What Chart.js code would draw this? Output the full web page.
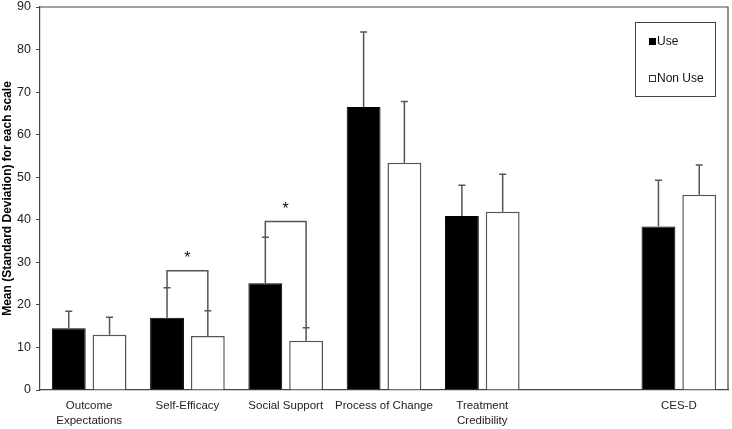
<!DOCTYPE html>
<html>
<head>
<meta charset="utf-8">
<script src="https://cdn.jsdelivr.net/npm/chart.js@4.4.0/dist/chart.umd.min.js"></script>
<style>
html,body{margin:0;padding:0;background:#fff;}
#wrap{width:732px;height:429px;position:relative;}
</style>
</head>
<body>
<div id="wrap"><canvas id="c" width="732" height="429"></canvas></div>
<script>
const categories = [['Outcome','Expectations'], 'Self-Efficacy', 'Social Support', 'Process of Change', ['Treatment','Credibility'], '', 'CES-D'];
const useMeans = [14.5, 17.0, 25.1, 66.5, 40.9, null, 38.4];
const useSD    = [4.0, 7.0, 10.8, 17.6, 7.2, null, 10.9];
const nonUseMeans = [13.0, 12.7, 11.6, 53.4, 41.9, null, 45.9];
const nonUseSD    = [4.1, 5.9, 3.0, 14.4, 8.8, null, 7.0];
const yTicks = [0,10,20,30,40,50,60,70,80,90];
const sigIndex = [1, 2];
const bracketLevel = [28.0, 39.6];
const seriesNames = ['Use', 'Non Use'];

const FONT = '"Liberation Sans", Arial, sans-serif';
const LINE = '#555';

const overlay = {
  id: 'overlay',
  afterDatasetsDraw(chart) {
    const ctx = chart.ctx;
    const y = chart.scales.y;
    const area = chart.chartArea;
    ctx.save();
    ctx.strokeStyle = '#444';
    ctx.lineWidth = 1.2;
    ctx.beginPath();
    ctx.moveTo(area.left, area.top);
    ctx.lineTo(area.right, area.top);
    ctx.lineTo(area.right, area.bottom);
    ctx.stroke();
    const sds = [useSD, nonUseSD];
    const means = [useMeans, nonUseMeans];
    ctx.strokeStyle = LINE;
    ctx.lineWidth = 1.5;
    for (let d = 0; d < 2; d++) {
      const meta = chart.getDatasetMeta(d);
      meta.data.forEach((bar, i) => {
        if (means[d][i] == null) return;
        const x = bar.x;
        const y0 = y.getPixelForValue(means[d][i]);
        const y1 = y.getPixelForValue(means[d][i] + sds[d][i]);
        ctx.beginPath();
        ctx.moveTo(x, y0);
        ctx.lineTo(x, y1);
        ctx.moveTo(x - 3.5, y1);
        ctx.lineTo(x + 3.5, y1);
        ctx.stroke();
      });
    }
    sigIndex.forEach((i, k) => {
      const b0 = chart.getDatasetMeta(0).data[i];
      const b1 = chart.getDatasetMeta(1).data[i];
      const yA = y.getPixelForValue(useMeans[i] + useSD[i]);
      const yB = y.getPixelForValue(nonUseMeans[i] + nonUseSD[i]);
      const yL = y.getPixelForValue(bracketLevel[k]);
      ctx.beginPath();
      ctx.moveTo(b0.x, yA);
      ctx.lineTo(b0.x, yL);
      ctx.lineTo(b1.x, yL);
      ctx.lineTo(b1.x, yB);
      ctx.stroke();
      ctx.fillStyle = '#111';
      ctx.font = '16px ' + FONT;
      ctx.textAlign = 'center';
      ctx.textBaseline = 'middle';
      ctx.fillText('*', (b0.x + b1.x) / 2, yL - 12);
    });
    ctx.strokeStyle = '#444';
    ctx.lineWidth = 1;
    ctx.strokeRect(635.5, 22.5, 80, 74);
    ctx.font = '12px ' + FONT;
    ctx.textAlign = 'left';
    ctx.textBaseline = 'middle';
    ctx.fillStyle = '#000';
    ctx.fillRect(649, 38, 7, 7);
    ctx.fillStyle = '#111';
    ctx.fillText(seriesNames[0], 657, 42);
    ctx.fillStyle = '#fff';
    ctx.fillRect(649.5, 75.5, 6, 6);
    ctx.strokeStyle = '#333';
    ctx.strokeRect(649.5, 75.5, 6, 6);
    ctx.fillStyle = '#111';
    ctx.fillText(seriesNames[1], 657, 79);
    ctx.restore();
  }
};

new Chart(document.getElementById('c'), {
  type: 'bar',
  data: {
    labels: categories,
    datasets: [
      { label: seriesNames[0], data: useMeans, backgroundColor: '#000', borderColor: '#000', borderWidth: 1 },
      { label: seriesNames[1], data: nonUseMeans, backgroundColor: '#fff', borderColor: '#555', borderWidth: 1.5 }
    ]
  },
  options: {
    responsive: false,
    animation: false,
    devicePixelRatio: 1,
    layout: { padding: { top: 7, right: 4, left: 0, bottom: 0 } },
    plugins: { legend: { display: false }, tooltip: { enabled: false } },
    datasets: { bar: { categoryPercentage: 0.83, barPercentage: 0.83 } },
    scales: {
      x: {
        grid: { display: false },
        border: { display: true, color: '#444', width: 1.2 },
        ticks: { color: '#222', font: { family: FONT, size: 11.5, lineHeight: 1.3 }, maxRotation: 0, autoSkip: false, padding: 0 },
        afterFit(s) { s.height = 39; s.paddingLeft = 0; s.paddingRight = 0; }
      },
      y: {
        min: 0, max: 90,
        afterBuildTicks(s) { s.ticks = yTicks.map(v => ({ value: v })); },
        grid: { drawOnChartArea: false, drawTicks: true, tickLength: 4, color: '#444' },
        border: { display: true, color: '#444', width: 1.2 },
        ticks: { color: '#222', font: { family: FONT, size: 12.5 }, padding: 5 },
        title: { display: true, text: 'Mean (Standard Deviation) for each scale', color: '#000', font: { family: FONT, size: 12, weight: 'bold' }, padding: { top: 0, bottom: 2 } },
        afterFit(s) { s.width = 40; s.paddingTop = 0; s.paddingBottom = 0; }
      }
    }
  },
  plugins: [overlay]
});
</script>
</body>
</html>
